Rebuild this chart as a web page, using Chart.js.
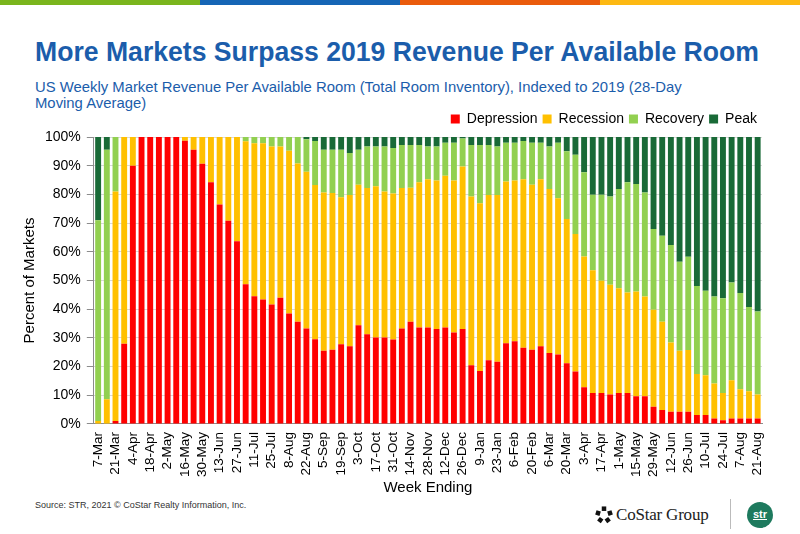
<!DOCTYPE html>
<html>
<head>
<meta charset="utf-8">
<script src="https://cdn.jsdelivr.net/npm/chart.js@4.4.0/dist/chart.umd.min.js"></script>
<style>
  body { margin:0; width:800px; height:534px; background:#fff; position:relative; overflow:hidden; font-family:"Liberation Sans", Arial, sans-serif; }
  .stripe { position:absolute; top:0; height:5px; }
  #title { position:absolute; left:35px; top:36px; font-size:28px; font-weight:bold; color:#1b5dab; white-space:nowrap; transform:scaleX(0.95); transform-origin:left top; }
  #subtitle { position:absolute; left:35px; top:79px; width:680px; font-size:15px; line-height:16px; color:#1b5dab; transform:scaleX(0.99); transform-origin:left top; }
  #chartBox { position:absolute; left:0; top:107px; width:800px; height:390px; }
  #source { position:absolute; left:35px; top:500px; font-size:9px; color:#333; }
  #costar { position:absolute; left:595px; top:503px; height:24px; display:flex; align-items:center; }
  #costar span { font-family:"Liberation Serif", "DejaVu Serif", serif; font-size:17px; color:#222; margin-left:3px; letter-spacing:-0.2px; }
  #sep { position:absolute; left:730px; top:499px; width:1px; height:30px; background:#bbb; }
  #str { position:absolute; left:747px; top:502px; width:26px; height:26px; border-radius:50%; background:#1e7a5e; color:#fff; font-size:11px; font-weight:bold; text-align:center; line-height:25px; text-decoration:underline; }
</style>
</head>
<body>
<div class="stripe" style="left:0;width:200px;background:#7ab51d"></div>
<div class="stripe" style="left:200px;width:200px;background:#1565b5"></div>
<div class="stripe" style="left:400px;width:200px;background:#ea5b0c"></div>
<div class="stripe" style="left:600px;width:200px;background:#fdb913"></div>

<div id="title">More Markets Surpass 2019 Revenue Per Available Room</div>
<div id="subtitle">US Weekly Market Revenue Per Available Room (Total Room Inventory), Indexed to 2019 (28-Day Moving Average)</div>

<div id="chartBox"><canvas id="chart"></canvas></div>

<div id="source">Source: STR, 2021 © CoStar Realty Information, Inc.</div>
<div id="costar">
  <svg width="18" height="18" viewBox="-10 -10 20 20">
    <g fill="#111">
      <rect x="-2.5" y="-9.5" width="5" height="5" transform="rotate(0)"/>
      <rect x="-2.5" y="-9.5" width="5" height="5" transform="rotate(72)"/>
      <rect x="-2.5" y="-9.5" width="5" height="5" transform="rotate(144)"/>
      <rect x="-2.5" y="-9.5" width="5" height="5" transform="rotate(216)"/>
      <rect x="-2.5" y="-9.5" width="5" height="5" transform="rotate(288)"/>
    </g>
  </svg>
  <span>CoStar Group</span>
</div>
<div id="sep"></div>
<div id="str">str</div>

<script>
const weeks = ['7-Mar','14-Mar','21-Mar','28-Mar','4-Apr','11-Apr','18-Apr','25-Apr','2-May','9-May',
  '16-May','23-May','30-May','6-Jun','13-Jun','20-Jun','27-Jun','4-Jul','11-Jul','18-Jul',
  '25-Jul','1-Aug','8-Aug','15-Aug','22-Aug','29-Aug','5-Sep','12-Sep','19-Sep','26-Sep',
  '3-Oct','10-Oct','17-Oct','24-Oct','31-Oct','7-Nov','14-Nov','21-Nov','28-Nov','5-Dec',
  '12-Dec','19-Dec','26-Dec','2-Jan','9-Jan','16-Jan','23-Jan','30-Jan','6-Feb','13-Feb',
  '20-Feb','27-Feb','6-Mar','13-Mar','20-Mar','27-Mar','3-Apr','10-Apr','17-Apr','24-Apr',
  '1-May','8-May','15-May','22-May','29-May','5-Jun','12-Jun','19-Jun','26-Jun','3-Jul',
  '10-Jul','17-Jul','24-Jul','31-Jul','7-Aug','14-Aug','21-Aug'];

const depression = [0,0,1,28,90,100,100,100,100,100,
  98.7,95.6,90.7,84.2,76.5,70.8,63.7,48.7,44.5,43.4,
  41.6,44.0,38.5,35.6,33.3,29.5,25.5,25.9,27.8,27.1,
  34.4,31.3,30.1,30.1,29.4,33.3,35.6,33.6,33.6,33.1,
  33.6,31.9,33.1,20.5,18.5,22.2,21.7,28.1,28.8,26.6,
  25.9,27.1,24.7,24.2,21.2,18.3,12.8,10.8,10.8,10.3,
  10.8,10.8,9.7,9.7,6.0,4.9,4.3,4.3,4.3,3.1,
  3.1,1.9,1.3,1.9,1.9,1.9,1.9];

const recession = [1,8.6,80,72,10,0,0,0,0,0,
  1.3,4.4,9.3,15.8,23.5,29.2,36.3,49.8,53.3,54.4,
  55.1,52.7,56.7,55.2,54.6,53.8,55.2,54.6,51.2,52.7,
  49.0,50.9,52.7,50.9,50.9,48.9,46.7,50.6,51.7,51.7,
  52.9,52.9,56.6,58.8,58.4,57.6,58.1,56.4,56.0,58.7,
  57.5,58.2,57.2,54.5,50.2,47.9,45.6,42.8,39.1,38.2,
  36.5,35.0,36.5,34.7,33.8,30.7,24.1,21.2,21.5,14.3,
  13.9,12.2,9.5,13.3,10.2,9.5,8.4];

const recovery = [70,87,19,0,0,0,0,0,0,0,
  0,0,0,0,0,0,0,1.5,2.2,2.2,
  3.3,3.3,4.8,9.2,11.3,15.3,14.9,15.1,16.6,14.6,
  12.2,14.5,13.9,15.7,15.9,15.0,14.9,13.0,11.4,11.9,
  11.5,13.2,9.8,17.9,20.3,17.4,16.9,13.5,13.2,13.3,
  14.6,12.7,14.8,19.3,23.6,27.6,29.3,26.3,30.0,30.8,
  34.6,38.4,37.4,36.3,28.1,30.0,34.0,31.0,32.5,30.7,
  29.4,30.3,33.0,34.1,33.5,29.4,28.9];

const peak = [29,4.4,0,0,0,0,0,0,0,0,
  0,0,0,0,0,0,0,0,0,0,
  0,0,0,0,0.8,1.4,4.4,4.4,4.4,5.6,
  4.4,3.3,3.3,3.3,3.8,2.8,2.8,2.8,3.3,3.3,
  2.0,2.0,0.5,2.8,2.8,2.8,3.3,2.0,2.0,1.4,
  2.0,2.0,3.3,2.0,5.0,6.2,12.3,20.1,20.1,20.7,
  18.1,15.8,16.4,19.3,32.1,34.4,37.6,43.5,41.7,51.9,
  53.6,55.6,56.2,50.7,54.4,59.2,60.8];

const seriesNames = ['Depression','Recession','Recovery','Peak'];
const seriesColors = ['#ff0000','#ffc000','#92d050','#196a37'];
const yTicks = [0,10,20,30,40,50,60,70,80,90,100];

Chart.defaults.font.family = '"Liberation Sans", Arial, sans-serif';
Chart.defaults.color = '#000';

// a bit more room under the legend row
const legendGap = {
  id: 'legendGap',
  beforeInit(chart) {
    const fit = chart.legend.fit;
    chart.legend.fit = function () {
      fit.bind(chart.legend)();
      this.height += 1;
    };
  }
};

const ctx = document.getElementById('chart').getContext('2d');
new Chart(ctx, {
  type: 'bar',
  data: {
    labels: weeks,
    datasets: [depression, recession, recovery, peak].map((d, i) => ({
      label: seriesNames[i],
      data: d,
      backgroundColor: seriesColors[i],
      borderWidth: 0,
      barPercentage: 0.68,
      categoryPercentage: 1.0
    }))
  },
  options: {
    responsive: true,
    maintainAspectRatio: false,
    animation: false,
    layout: { padding: { left: 21, right: 38, top: 0, bottom: 0 } },
    plugins: {
      legend: {
        position: 'top',
        align: 'end',
        labels: { boxWidth: 9, boxHeight: 9, padding: 5, font: { size: 14 }, color: '#000' }
      },
      tooltip: { enabled: false }
    },
    scales: {
      x: {
        stacked: true,
        grid: { display: false, drawTicks: true, tickLength: 8 },
        border: { display: true, color: '#8c8c8c' },
        ticks: {
          autoSkip: false, maxRotation: 90, minRotation: 90, padding: 0,
          font: { size: 13.5 }, color: '#000',
          callback: (v, i) => i % 2 === 0 ? weeks[i] : ''
        },
        title: { display: true, text: 'Week Ending', font: { size: 15 }, color: '#000', padding: { top: 2, bottom: 0 } }
      },
      y: {
        stacked: true,
        min: 0, max: 100,
        afterBuildTicks: s => { s.ticks = yTicks.map(v => ({ value: v })); },
        grid: { color: '#d9d9d9', tickLength: 7, tickColor: '#8c8c8c' },
        border: { display: true, color: '#8c8c8c' },
        ticks: { padding: 6, font: { size: 14 }, color: '#000', callback: v => v + '%' },
        title: { display: true, text: 'Percent of Markets', font: { size: 15 }, color: '#000', padding: { top: 0, bottom: 0 } }
      }
    }
  },
  plugins: [legendGap]
});
</script>
</body>
</html>
